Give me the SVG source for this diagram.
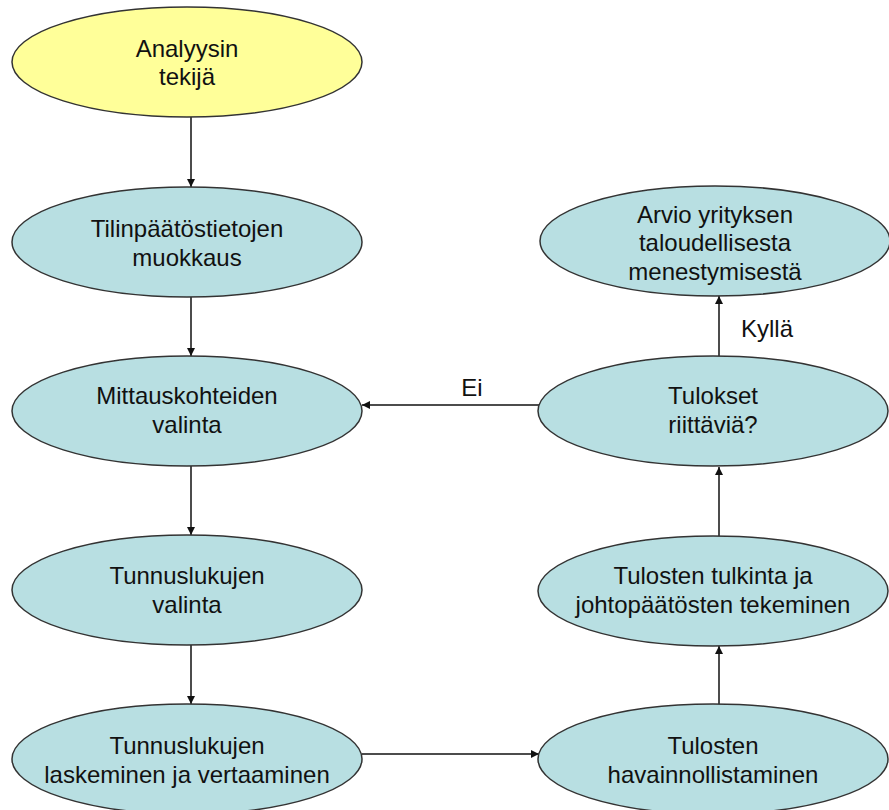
<svg xmlns="http://www.w3.org/2000/svg" width="889" height="810" viewBox="0 0 889 810">
<style>
.n{fill:#B8DFE2;stroke:#333;stroke-width:1.5}
.y{fill:#FFFF99;stroke:#333;stroke-width:1.5}
text{font-family:"Liberation Sans",Arial,sans-serif;font-size:24px;fill:#111;text-anchor:middle}
.c{stroke:#111;stroke-width:1.5;fill:none;marker-end:url(#a)}
</style>
<defs>
<marker id="a" viewBox="0 0 10 10" refX="10" refY="5" markerWidth="9" markerHeight="8" orient="auto" markerUnits="userSpaceOnUse">
<path d="M0,0 L10,5 L0,10 z" fill="#111"/>
</marker>
</defs>
<rect width="889" height="810" fill="#fff"/>
<g id="connectors">
<line class="c" x1="191" y1="117" x2="191" y2="187"/>
<line class="c" x1="191" y1="297" x2="191" y2="356"/>
<line class="c" x1="191" y1="466" x2="191" y2="535"/>
<line class="c" x1="191" y1="645" x2="191" y2="704"/>
<line class="c" x1="362" y1="754" x2="539" y2="754"/>
<line class="c" x1="719" y1="705" x2="719" y2="646"/>
<line class="c" x1="719" y1="536" x2="719" y2="467"/>
<line class="c" x1="719" y1="356" x2="719" y2="296"/>
<line class="c" x1="540" y1="405" x2="362" y2="405"/>
<text x="472" y="396">Ei</text>
<text x="767" y="337">Kyllä</text>
</g>
<g id="n1"><ellipse class="y" cx="187" cy="62" rx="175" ry="55"/><text x="187" y="57">Analyysin</text><text x="187" y="85">tekijä</text></g>
<g id="n2"><ellipse class="n" cx="187" cy="242" rx="175" ry="55"/><text x="187" y="237">Tilinpäätöstietojen</text><text x="187" y="266">muokkaus</text></g>
<g id="n3"><ellipse class="n" cx="187" cy="411" rx="175" ry="55"/><text x="187" y="404">Mittauskohteiden</text><text x="187" y="433">valinta</text></g>
<g id="n4"><ellipse class="n" cx="187" cy="590" rx="175" ry="55"/><text x="187" y="584">Tunnuslukujen</text><text x="187" y="613">valinta</text></g>
<g id="n5"><ellipse class="n" cx="187" cy="759" rx="175" ry="55"/><text x="187" y="754">Tunnuslukujen</text><text x="187" y="783">laskeminen ja vertaaminen</text></g>
<g id="n6"><ellipse class="n" cx="713" cy="759" rx="175" ry="55"/><text x="713" y="754">Tulosten</text><text x="713" y="783">havainnollistaminen</text></g>
<g id="n7"><ellipse class="n" cx="713" cy="591" rx="175" ry="55"/><text x="713" y="584">Tulosten tulkinta ja</text><text x="713" y="613">johtopäätösten tekeminen</text></g>
<g id="n8"><ellipse class="n" cx="713" cy="411" rx="175" ry="55"/><text x="713" y="404">Tulokset</text><text x="713" y="433">riittäviä?</text></g>
<g id="n9"><ellipse class="n" cx="715" cy="241" rx="175" ry="55"/><text x="715" y="223">Arvio yrityksen</text><text x="715" y="251">taloudellisesta</text><text x="715" y="280">menestymisestä</text></g>
</svg>
